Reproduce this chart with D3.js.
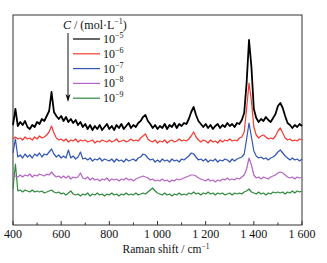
<!DOCTYPE html>
<html lang="en">
  <head>
    <meta charset="UTF-8" />
    <title>Raman spectra</title>
    <script src="https://d3js.org/d3.v7.min.js"></script>
    <style>
      body { margin: 0; background: #fff; }
      text { font-family: "Liberation Serif", "Times New Roman", serif; fill: #111; }
    </style>
  </head>
  <body>
    <svg id="chart" width="327" height="263"></svg>
    <script>
      // Raman shift sampling (cm-1)
      const shifts = [
        400, 410, 420, 430, 440, 450, 460, 470, 480, 490, 500, 510, 520, 530, 540, 550, 560, 570, 580, 590,
        600, 610, 620, 630, 640, 650, 660, 670, 680, 690, 700, 710, 720, 730, 740, 750, 760, 770, 780, 790,
        800, 810, 820, 830, 840, 850, 860, 870, 880, 890, 900, 910, 920, 930, 940, 950, 960, 970, 980, 990,
        1000, 1010, 1020, 1030, 1040, 1050, 1060, 1070, 1080, 1090, 1100, 1110, 1120, 1130, 1140, 1150, 1160, 1170, 1180, 1190,
        1200, 1210, 1220, 1230, 1240, 1250, 1260, 1270, 1280, 1290, 1300, 1310, 1320, 1330, 1340, 1350, 1360, 1370, 1380, 1390,
        1400, 1410, 1420, 1430, 1440, 1450, 1460, 1470, 1480, 1490, 1500, 1510, 1520, 1530, 1540, 1550, 1560, 1570, 1580, 1590,
        1600
      ];

      // intensities (a.u., curves already offset)
      const conc5 = [
        100, 116, 99, 103, 100, 104, 98, 96, 100, 98, 103, 101, 106, 104, 109, 114, 133, 113, 109, 106,
        109, 104, 108, 103, 106, 102, 105, 100, 103, 98, 101, 96, 100, 95, 99, 96, 100, 95, 98, 101,
        96, 99, 95, 100, 97, 101, 96, 99, 102, 97, 100, 98, 102, 104, 108, 110, 104, 101, 97, 100,
        96, 99, 97, 101, 96, 100, 98, 102, 97, 101, 99, 102, 101, 106, 113, 118, 110, 104, 101, 98,
        101, 97, 100, 96, 99, 101, 97, 100, 98, 102, 99, 101, 98, 102, 101, 105, 112, 142, 185, 158,
        116, 107, 103, 106, 104, 108, 105, 103, 107, 111, 119, 122, 117, 109, 102, 100, 97, 100, 98, 101,
        99
      ];
      const conc6 = [
        86, 88, 86, 87, 85, 88, 86, 87, 85, 88, 86, 89, 87, 88, 90, 93, 99, 92, 87, 85,
        86, 84, 86, 83, 85, 84, 86, 83, 85, 84, 85, 83, 84, 85, 82, 84, 83, 85, 84, 83,
        85, 83, 84, 86, 83, 84, 85, 83, 84, 86, 84, 85, 84, 87, 89, 91, 86, 84, 83, 85,
        82, 84, 83, 85, 82, 84, 85, 83, 84, 86, 84, 85, 84, 86, 89, 93, 88, 85, 83, 85,
        84, 82, 85, 83, 84, 82, 85, 83, 85, 84, 86, 84, 85, 84, 87, 88, 93, 116, 142, 124,
        98, 90, 87, 89, 90, 88, 86, 87, 86, 89, 94, 97, 92, 87, 85, 86, 84, 85, 84, 86,
        85
      ];
      const conc7 = [
        72, 86, 68, 70, 67, 71, 68, 70, 67, 71, 69, 72, 68, 71, 70, 73, 76, 71, 68, 70,
        67, 69, 67, 75, 67, 69, 66, 68, 73, 66, 67, 65, 67, 64, 66, 65, 67, 64, 66, 65,
        64, 66, 63, 66, 64, 65, 63, 66, 64, 65, 66, 64, 67, 68, 71, 70, 67, 65, 66, 63,
        65, 63, 66, 64, 65, 63, 66, 64, 65, 63, 66, 65, 67, 69, 72, 71, 68, 65, 66, 64,
        66, 63, 65, 64, 66, 63, 65, 64, 66, 65, 63, 66, 64, 66, 67, 68, 71, 86, 102, 88,
        74, 69, 67, 68, 66, 67, 65, 67, 68, 70, 73, 75, 72, 69, 67, 65, 67, 65, 66, 64,
        66
      ];
      const conc8 = [
        50, 49, 48, 50, 48, 50, 49, 51, 48, 50, 49, 51, 50, 49, 51, 50, 53, 50, 48, 49,
        47, 49, 47, 49, 46, 48, 47, 48, 52, 47, 46, 48, 45, 47, 45, 46, 44, 46, 45, 47,
        44, 46, 45, 46, 44, 46, 45, 47, 45, 46, 44, 46, 47, 48, 49, 48, 47, 45, 46, 44,
        45, 44, 46, 44, 45, 43, 45, 44, 46, 45, 46, 47, 48, 49, 50, 50, 49, 47, 46, 45,
        44, 46, 44, 45, 43, 45, 44, 46, 45, 47, 45, 46, 45, 47, 46, 48, 50, 56, 67, 60,
        50, 47, 48, 46, 48, 47, 46, 48, 49, 50, 52, 53, 52, 50, 48, 47, 48, 46, 48, 47,
        48
      ];
      const conc9 = [
        36, 61, 34, 35, 33, 35, 34, 33, 35, 33, 34, 33, 34, 32, 33, 34, 35, 33, 32, 33,
        31, 32, 30, 32, 34, 31, 30, 31, 29, 31, 30, 32, 29, 31, 30, 32, 30, 31, 29, 31,
        30, 32, 30, 31, 29, 31, 30, 32, 30, 31, 30, 32, 30, 31, 32, 31, 33, 35, 37, 34,
        32, 31, 30, 32, 30, 31, 29, 31, 30, 32, 30, 31, 30, 32, 31, 33, 31, 32, 30, 32,
        31, 33, 31, 32, 30, 32, 31, 32, 30, 31, 32, 30, 32, 31, 32, 31, 33, 34, 36, 33,
        32, 31, 33, 31, 32, 30, 32, 31, 33, 32, 33, 32, 33, 31, 33, 32, 34, 32, 34, 33,
        34
      ];

      const seriesNames = ["−5", "−6", "−7", "−8", "−9"];
      const seriesColors = ["#000000", "#f23a32", "#3256b8", "#b464c4", "#2f8a3c"];
      const seriesData = [conc5, conc6, conc7, conc8, conc9];
      const xTicks = [400, 600, 800, 1000, 1200, 1400, 1600];
      const xMinor = [500, 700, 900, 1100, 1300, 1500];

      const svg = d3.select("#chart");
      const plotL = 13, plotR = 302, plotT = 15, plotB = 225;

      const x = d3.scaleLinear().domain([400, 1600]).range([plotL, plotR]);
      const y = d3.scaleLinear().domain([0, 210]).range([plotB, plotT]);

      // frame
      svg.append("rect")
        .attr("x", plotL).attr("y", plotT)
        .attr("width", plotR - plotL).attr("height", plotB - plotT)
        .attr("fill", "none").attr("stroke", "#333").attr("stroke-width", 1);

      // spectra
      const line = d3.line()
        .x((d, i) => x(shifts[i]))
        .y((d) => y(d));

      seriesData.slice().reverse().forEach((vals, k) => {
        const idx = seriesData.length - 1 - k;
        svg.append("path")
          .datum(vals)
          .attr("d", line)
          .attr("fill", "none")
          .attr("stroke", seriesColors[idx])
          .attr("stroke-width", idx === 0 ? 1.8 : 1.2)
          .attr("stroke-linejoin", "round");
      });

      // x axis ticks (inside) and labels
      const axis = svg.append("g").attr("transform", `translate(0,${plotB})`);
      axis.selectAll("line.major").data(xTicks).enter().append("line")
        .attr("class", "major")
        .attr("x1", (d) => x(d)).attr("x2", (d) => x(d))
        .attr("y1", 0).attr("y2", -4)
        .attr("stroke", "#333");
      axis.selectAll("line.minor").data(xMinor).enter().append("line")
        .attr("class", "minor")
        .attr("x1", (d) => x(d)).attr("x2", (d) => x(d))
        .attr("y1", 0).attr("y2", -2.5)
        .attr("stroke", "#333");
      axis.selectAll("text").data(xTicks).enter().append("text")
        .attr("x", (d) => x(d)).attr("y", 13)
        .attr("text-anchor", "middle")
        .attr("font-size", 12)
        .text((d) => d >= 1000 ? `${Math.floor(d / 1000)} ${String(d % 1000).padStart(3, "0")}` : d);

      const xt = svg.append("text")
        .attr("x", 166).attr("y", 253)
        .attr("text-anchor", "middle")
        .attr("font-size", 11.5);
      xt.append("tspan").text("Raman shift / cm");
      xt.append("tspan").attr("font-size", 7.5).attr("dy", -4).text("−1");

      // legend
      const lt = svg.append("text").attr("x", 63).attr("y", 29).attr("font-size", 12);
      lt.append("tspan").attr("font-style", "italic").text("C");
      lt.append("tspan").text(" / (mol·L");
      lt.append("tspan").attr("font-size", 8).attr("dy", -5).text("−1");
      lt.append("tspan").attr("dy", 5).text(")");

      const rowY = (i) => 39 + i * 14.8;
      const legend = svg.append("g");
      seriesNames.forEach((name, i) => {
        legend.append("line")
          .attr("x1", 73).attr("x2", 100)
          .attr("y1", rowY(i)).attr("y2", rowY(i))
          .attr("stroke", seriesColors[i]).attr("stroke-width", 1.2);
        const t = legend.append("text")
          .attr("x", 103).attr("y", rowY(i) + 4).attr("font-size", 12);
        t.append("tspan").text("10");
        t.append("tspan").attr("font-size", 8).attr("dy", -5).text(name);
      });

      // arrow showing decreasing concentration
      svg.append("line")
        .attr("x1", 68).attr("x2", 68).attr("y1", 33).attr("y2", 100)
        .attr("stroke", "#111").attr("stroke-width", 1);
      svg.append("path")
        .attr("d", "M65.5,94 L68,102 L70.5,94 L68,96 Z")
        .attr("fill", "#111");
    </script>
  </body>
</html>
